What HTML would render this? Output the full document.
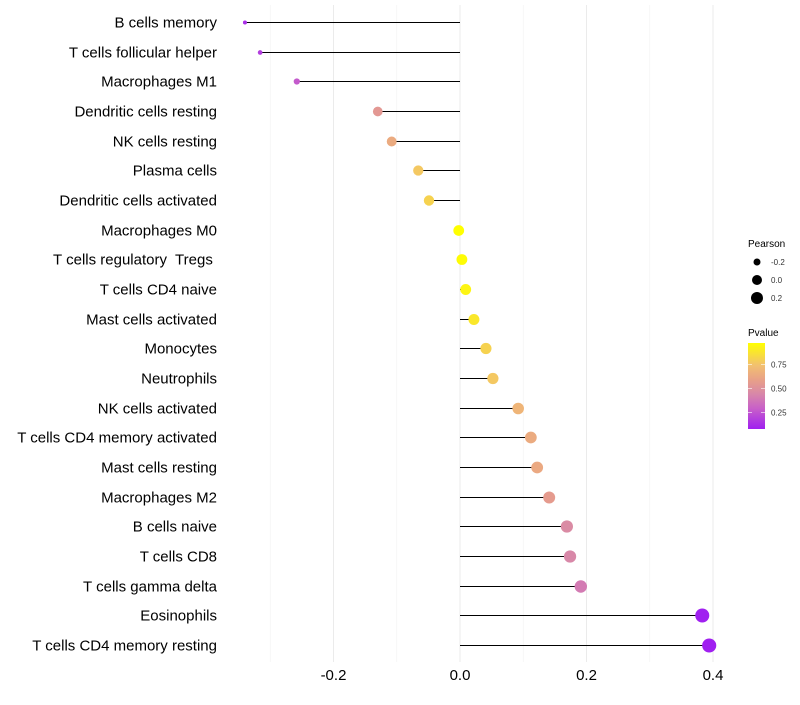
<!DOCTYPE html>
<html><head><meta charset="utf-8"><style>
body{margin:0;background:#fff;font-family:"Liberation Sans",sans-serif}
svg text{font-family:"Liberation Sans",sans-serif}
</style></head><body>
<svg id="chart" width="800" height="700" xmlns="http://www.w3.org/2000/svg">
<g id="grid"></g>
<g id="marks"></g>
<g id="ylabels"></g>
<g id="xlabels"></g>
<g>
<text x="748" y="247" font-size="10" fill="#000">Pearson</text>
<g id="sizeLegend"></g>
</g>
<g>
<text x="748" y="336" font-size="10" fill="#000">Pvalue</text>
<defs><linearGradient id="pg" x1="0" y1="1" x2="0" y2="0">
<stop offset="0" stop-color="#a020f0"/><stop offset="0.24" stop-color="#c860c8"/><stop offset="0.41" stop-color="#d888a8"/><stop offset="0.57" stop-color="#e8a088"/><stop offset="0.74" stop-color="#f2c070"/><stop offset="1" stop-color="#ffff00"/></linearGradient></defs>
<rect x="748" y="343" width="17" height="86" fill="url(#pg)"/>
<g id="colorTicks"></g>
</g>
</svg>
<script>
const categories=["B cells memory","T cells follicular helper","Macrophages M1","Dendritic cells resting","NK cells resting","Plasma cells","Dendritic cells activated","Macrophages M0","T cells regulatory  Tregs ","T cells CD4 naive","Mast cells activated","Monocytes","Neutrophils","NK cells activated","T cells CD4 memory activated","Mast cells resting","Macrophages M2","B cells naive","T cells CD8","T cells gamma delta","Eosinophils","T cells CD4 memory resting"];
const pearson=[-0.34,-0.316,-0.258,-0.13,-0.108,-0.066,-0.049,-0.002,0.003,0.009,0.022,0.041,0.052,0.092,0.112,0.122,0.141,0.169,0.174,0.191,0.383,0.394];
const pvalues=[0.13,0.18,0.28,0.55,0.65,0.78,0.82,0.99,0.98,0.95,0.9,0.82,0.78,0.7,0.65,0.64,0.57,0.47,0.45,0.4,0.06,0.06];
const xTicks=[-0.2,0,0.2,0.4];
const xTickLabels=["-0.2","0.0","0.2","0.4"];
const xMinor=[-0.3,-0.1,0.1,0.3];
const sizeLegendVals=[-0.2,0,0.2];
const colorTickVals=[0.25,0.5,0.75];
const NS="http://www.w3.org/2000/svg";
const x=v=>460+v*632.5;
const y=i=>Math.round(22+i*29.667)+0.5;
const r=v=>v>=-0.13?5.4+4.2*v:4.85+(v+0.13)*13.5;
const cy=p=>429-(p-0.08)*96;
const stops=[[0.08,[160,32,240]],[0.3,[200,96,200]],[0.45,[216,136,168]],[0.6,[232,160,136]],[0.75,[242,192,112]],[0.99,[255,255,0]]];
function col(p){p=Math.max(0.08,Math.min(0.99,p));
 for(let k=0;k<stops.length-1;k++){const [a,ca]=stops[k],[b,cb]=stops[k+1];
  if(p<=b){const t=(p-a)/(b-a);return `rgb(${ca.map((c,i)=>Math.round(c+(cb[i]-c)*t))})`;}}
 return 'rgb(255,255,0)';}
function el(t,a,parent){const e=document.createElementNS(NS,t);for(const k in a)e.setAttribute(k,a[k]);document.getElementById(parent).appendChild(e);return e;}
xMinor.forEach(v=>{const l=el('line',{x1:x(v),x2:x(v),y1:5,y2:662,stroke:'#f3f3f3','stroke-width':0.6},'grid');

});
xTicks.forEach((v,i)=>{const l=el('line',{x1:x(v),x2:x(v),y1:5,y2:662,stroke:'#ebebeb','stroke-width':1},'grid');


const t=el('text',{x:x(v),y:680,'font-size':15,'text-anchor':'middle',fill:'#000'},'xlabels');t.textContent=xTickLabels[i];

});
categories.forEach((c,i)=>{
 const g=el('line',{x1:x(0),x2:x(pearson[i]),y1:y(i),y2:y(i),stroke:'#000','stroke-width':1},'marks');
 
 
 const d=el('circle',{cx:x(pearson[i]),cy:y(i),r:r(pearson[i]),fill:col(pvalues[i])},'marks');
 
 
 const t=el('text',{x:217,y:y(i)+5,'font-size':15,'text-anchor':'end',fill:'#000'},'ylabels');
 t.style.whiteSpace='pre';t.textContent=c;
 
 });
sizeLegendVals.forEach((v,i)=>{const yy=262+i*18;
 const c=el('circle',{cx:757,cy:yy,r:[3.5,5,6][i],fill:'#000'},'sizeLegend');
 
 
 const t=el('text',{x:771,y:yy+3,'font-size':8,fill:'#333'},'sizeLegend');t.textContent=v===0?'0.0':v.toFixed(1);
 
 });
colorTickVals.forEach(v=>{const yy=cy(v);
 const l=el('line',{x1:748,x2:752,y1:yy,y2:yy,stroke:'#fff','stroke-width':0.6},'colorTicks');
 
 
 const l2=el('line',{x1:761,x2:765,y1:yy,y2:yy,stroke:'#fff','stroke-width':0.6},'colorTicks');
 
 
 const t=el('text',{x:771,y:yy+3,'font-size':8,fill:'#333'},'colorTicks');t.textContent=v.toFixed(2);
 
 });
</script>
</body></html>
